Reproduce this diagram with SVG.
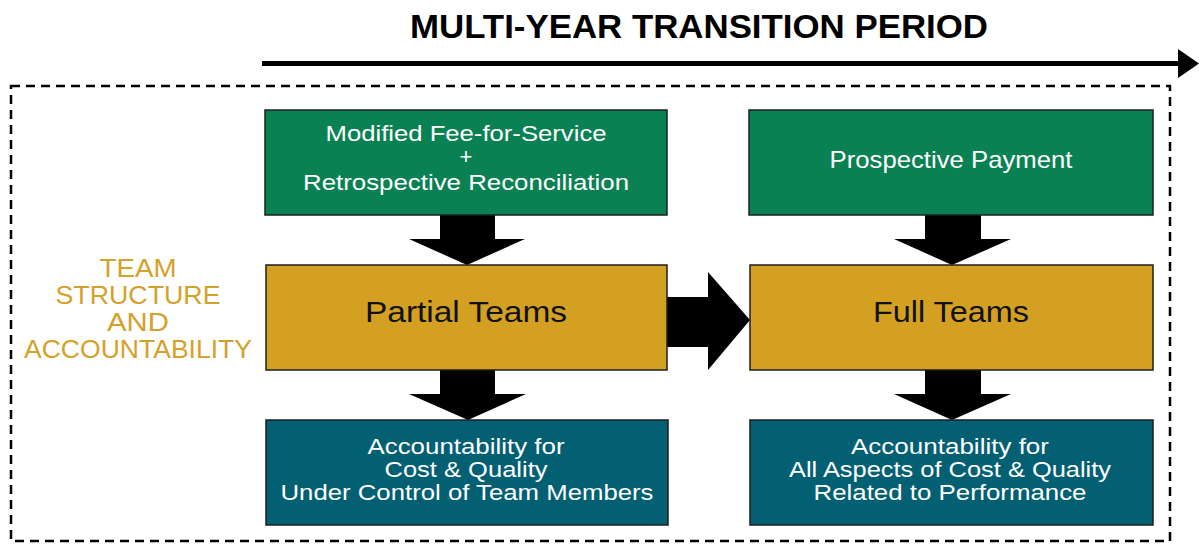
<svg xmlns="http://www.w3.org/2000/svg" width="1199" height="544" viewBox="0 0 1199 544">
<style>
.box{stroke:#1e1e1e;stroke-width:1.5}
.g{fill:#0a8152}
.y{fill:#d3a022}
.t{fill:#035f72}
.wt{font-family:"Liberation Sans",Arial,sans-serif;font-size:24px;fill:#ffffff;text-anchor:middle}
.ws{font-family:"Liberation Sans",Arial,sans-serif;font-size:22px;fill:#ffffff;text-anchor:middle}
.bt{font-family:"Liberation Sans",Arial,sans-serif;font-size:30px;fill:#111111;text-anchor:middle}
.lab{font-family:"Liberation Sans",Arial,sans-serif;font-size:25px;fill:#d4a12a;text-anchor:middle}
.arr{fill:#000000}
</style>
<rect x="0" y="0" width="1199" height="544" fill="#ffffff"/>
<text x="699" y="38" font-family="Liberation Sans,Arial,sans-serif" font-weight="bold" font-size="34" text-anchor="middle" textLength="578" lengthAdjust="spacingAndGlyphs" fill="#000">MULTI-YEAR TRANSITION PERIOD</text>
<g id="timeline">
<rect x="262" y="61" width="918" height="5" class="arr"/>
<polygon points="1178,49 1199,63.5 1178,78" class="arr"/>
</g>
<rect id="frame" x="11" y="86" width="1159" height="455" fill="none" stroke="#000" stroke-width="2.5" stroke-dasharray="9 6"/>
<g id="label">
<text class="lab" x="138" y="277" textLength="77" lengthAdjust="spacingAndGlyphs">TEAM</text>
<text class="lab" x="138" y="304" textLength="165" lengthAdjust="spacingAndGlyphs">STRUCTURE</text>
<text class="lab" x="138" y="331" textLength="62" lengthAdjust="spacingAndGlyphs">AND</text>
<text class="lab" x="138" y="358" textLength="228" lengthAdjust="spacingAndGlyphs">ACCOUNTABILITY</text>
</g>
<g id="connectors">
<polygon class="arr" points="440,215 495,215 495,239 525,239 467,265 409,239 440,239"/>
<polygon class="arr" points="925,215 981,215 981,239 1011,239 952,265 894,239 925,239"/>
<polygon class="arr" points="440,370 495,370 495,394 526,394 468,420 409,394 440,394"/>
<polygon class="arr" points="925,370 981,370 981,394 1011,394 952,420 894,394 925,394"/>
<polygon class="arr" points="667,297 708,297 708,272 750,320 708,370 708,347 667,347"/>
</g>
<g id="node-ffs">
<rect class="box g" x="265" y="110" width="402" height="105"/>
<text class="ws" x="466" y="141" textLength="281" lengthAdjust="spacingAndGlyphs">Modified Fee-for-Service</text>
<text class="ws" x="466" y="164" font-size="20">+</text>
<text class="ws" x="466" y="190" textLength="326" lengthAdjust="spacingAndGlyphs">Retrospective Reconciliation</text>
</g>
<g id="node-pp">
<rect class="box g" x="749" y="110" width="404" height="105"/>
<text class="wt" x="951" y="168" textLength="243" lengthAdjust="spacingAndGlyphs">Prospective Payment</text>
</g>
<g id="node-partial">
<rect class="box y" x="266" y="265" width="401" height="105"/>
<text class="bt" x="466" y="322" textLength="202" lengthAdjust="spacingAndGlyphs">Partial Teams</text>
</g>
<g id="node-full">
<rect class="box y" x="750" y="265" width="403" height="105"/>
<text class="bt" x="951" y="322" textLength="156" lengthAdjust="spacingAndGlyphs">Full Teams</text>
</g>
<g id="node-acc1">
<rect class="box t" x="266" y="420" width="402" height="105"/>
<text class="ws" x="466" y="454" textLength="197" lengthAdjust="spacingAndGlyphs">Accountability for</text>
<text class="ws" x="466" y="477" textLength="163" lengthAdjust="spacingAndGlyphs">Cost &amp; Quality</text>
<text class="ws" x="467" y="500" textLength="373" lengthAdjust="spacingAndGlyphs">Under Control of Team Members</text>
</g>
<g id="node-acc2">
<rect class="box t" x="750" y="420" width="403" height="105"/>
<text class="ws" x="950" y="454" textLength="198" lengthAdjust="spacingAndGlyphs">Accountability for</text>
<text class="ws" x="950" y="477" textLength="322" lengthAdjust="spacingAndGlyphs">All Aspects of Cost &amp; Quality</text>
<text class="ws" x="950" y="500" textLength="273" lengthAdjust="spacingAndGlyphs">Related to Performance</text>
</g>
</svg>
